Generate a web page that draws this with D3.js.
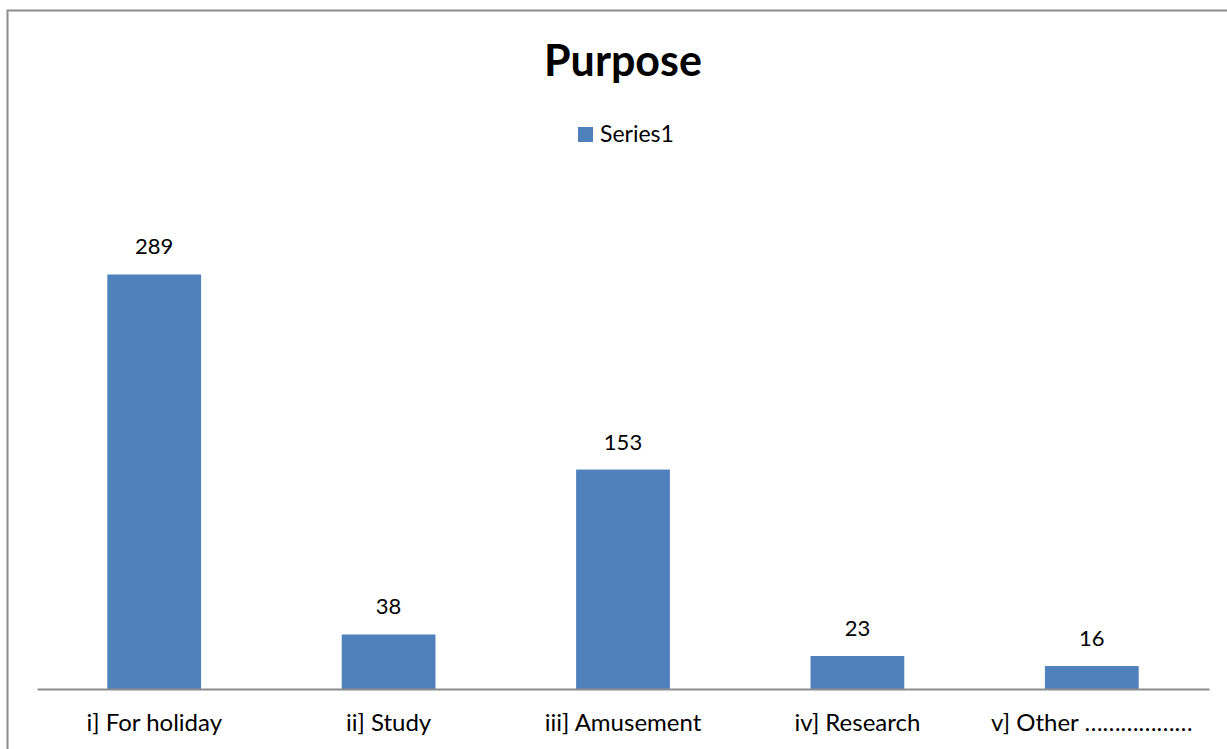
<!DOCTYPE html>
<html>
<head>
<meta charset="utf-8">
<script src="https://cdn.jsdelivr.net/npm/d3@7/dist/d3.min.js"></script>
<style>
  html, body { margin: 0; padding: 0; background: #fff; }
  svg { display: block; }
  text { font-family: Lato, "Open Sans", sans-serif; fill: #000; }
</style>
</head>
<body>
<svg id="chart" width="1227" height="749"></svg>
<script>
// Survey responses by purpose of visit
const categories = ["i] For holiday", "ii] Study", "iii] Amusement", "iv] Research", "v] Other \u2026\u2026\u2026\u2026\u2026\u2026"];
const values = [289, 38, 153, 23, 16];
const seriesName = "Series1";
const chartTitle = "Purpose";

const W = 1227, H = 749;
const svg = d3.select("#chart");

// outer chart frame
svg.append("rect")
  .attr("x", 7.5).attr("y", 10.5)
  .attr("width", W + 10).attr("height", H + 10)
  .attr("fill", "none").attr("stroke", "#8c8c8c").attr("stroke-width", 2);

const plot = { left: 37, right: 1209, top: 187, bottom: 689 };

const x = d3.scaleBand()
  .domain(categories)
  .range([plot.left, plot.right])
  .paddingInner(0.6)
  .paddingOuter(0.3);

const y = d3.scaleLinear()
  .domain([0, 350])
  .range([plot.bottom, plot.top]);

const barColor = "#4f81bd";

// bars
svg.append("g").selectAll("rect")
  .data(values)
  .join("rect")
  .attr("x", (d, i) => x(categories[i]))
  .attr("y", d => y(d))
  .attr("width", x.bandwidth())
  .attr("height", d => y(0) - y(d))
  .attr("fill", barColor);

// value labels
svg.append("g").selectAll("text")
  .data(values)
  .join("text")
  .attr("x", (d, i) => x(categories[i]) + x.bandwidth() / 2)
  .attr("y", d => y(d) - 20)
  .attr("text-anchor", "middle")
  .attr("font-size", 22)
  .text(d => d);

// category axis
const xAxis = d3.axisBottom(x).tickSize(0).tickPadding(25);
const gx = svg.append("g")
  .attr("transform", `translate(0,${plot.bottom})`)
  .call(xAxis);
gx.select(".domain").attr("stroke", "#8c8c8c").attr("stroke-width", 2);
gx.selectAll("text")
  .attr("font-size", 24)
  .attr("font-family", "Lato, sans-serif")
  .attr("fill", "#000");

// title
svg.append("text")
  .attr("x", 623).attr("y", 76)
  .attr("text-anchor", "middle")
  .attr("font-size", 43)
  .attr("font-weight", "bold")
  .text(chartTitle);

// legend
const legend = svg.append("g").attr("transform", "translate(578,127)");
legend.append("rect").attr("width", 15).attr("height", 15).attr("fill", barColor);
legend.append("text").attr("x", 22).attr("y", 15).attr("font-size", 23).text(seriesName);
</script>
</body>
</html>
